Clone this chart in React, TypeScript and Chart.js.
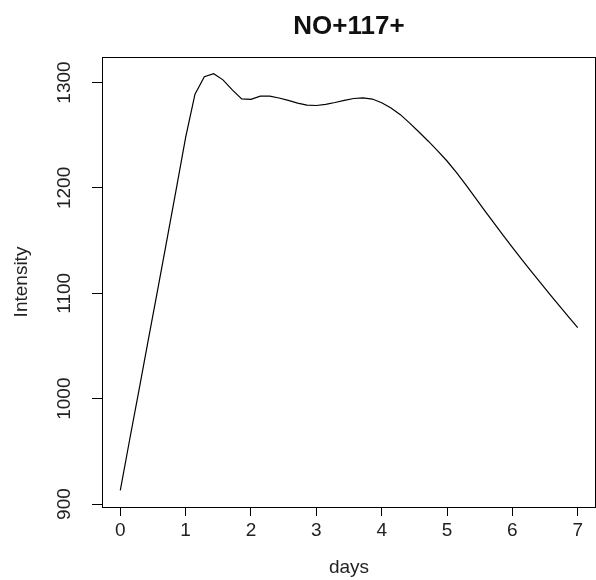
import React, { useEffect, useRef } from "react";
import { Chart, registerables } from "chart.js";

Chart.register(...registerables);

const titleText = "NO+117+";
const xLabel = "days";
const yLabel = "Intensity";
const xTicks = [0, 1, 2, 3, 4, 5, 6, 7];
const yTicks = [900, 1000, 1100, 1200, 1300];

const days = [
  0, 0.143, 0.286, 0.429, 0.571, 0.714, 0.857, 1.0, 1.143, 1.286,
  1.429, 1.571, 1.714, 1.857, 2.0, 2.143, 2.286, 2.429, 2.571, 2.714,
  2.857, 3.0, 3.143, 3.286, 3.429, 3.571, 3.714, 3.857, 4.0, 4.143,
  4.286, 4.429, 4.571, 4.714, 4.857, 5.0, 5.143, 5.286, 5.429, 5.571,
  5.714, 5.857, 6.0, 6.143, 6.286, 6.429, 6.571, 6.714, 6.857, 7.0,
];
const intensity = [
  913, 961, 1008, 1056, 1103, 1151, 1199, 1248, 1289, 1305.5,
  1308.3, 1302.5, 1293, 1284.5, 1284, 1287, 1287, 1285.3, 1283, 1280.5,
  1278.5, 1278.2, 1279.3, 1281, 1283, 1284.8, 1285.5, 1284.3, 1280.8, 1275.8,
  1269.5, 1261.5, 1253, 1244.3, 1235.2, 1225.5, 1214.8, 1203, 1191, 1179,
  1167, 1155.2, 1143.6, 1132.2, 1121, 1110, 1099.3, 1088.6, 1077.9, 1067.3,
];

const FONT = "'Liberation Sans', Arial, Helvetica, sans-serif";

export default function App() {
  const ref = useRef<HTMLCanvasElement | null>(null);

  useEffect(() => {
    if (!ref.current) return;
    const boxPlugin = {
      id: "rbox",
      afterDraw(chart: any) {
        const { ctx, chartArea } = chart;
        ctx.save();
        ctx.strokeStyle = "#000";
        ctx.lineWidth = 1;
        ctx.strokeRect(
          Math.round(chartArea.left) + 0.5,
          Math.round(chartArea.top) + 0.5,
          Math.round(chartArea.right - chartArea.left) - 1,
          Math.round(chartArea.bottom - chartArea.top)
        );
        // y tick labels, rotated (parallel to axis)
        const ys = chart.scales.y;
        ctx.fillStyle = "#222";
        ctx.font = `19px ${FONT}`;
        ctx.textAlign = "center";
        ctx.textBaseline = "middle";
        for (const v of yTicks) {
          const py = ys.getPixelForValue(v);
          ctx.save();
          ctx.translate(65, py);
          ctx.rotate(-Math.PI / 2);
          ctx.fillText(String(v), 0, 0);
          ctx.restore();
        }
        // title
        ctx.font = `bold 26px ${FONT}`;
        ctx.fillStyle = "#111";
        ctx.fillText(titleText, (chartArea.left + chartArea.right) / 2, 27);
        ctx.restore();
      },
    };

    const chart = new Chart(ref.current, {
      type: "line",
      data: {
        datasets: [
          {
            data: days.map((d, i) => ({ x: d, y: intensity[i] })),
            borderColor: "#000",
            borderWidth: 1.2,
            pointRadius: 0,
            tension: 0,
            fill: false,
          },
        ],
      },
      options: {
        animation: false,
        responsive: false,
        devicePixelRatio: 1,
        layout: { padding: { top: 57, right: 0, left: 0, bottom: 0 } },
        plugins: { legend: { display: false }, tooltip: { enabled: false }, title: { display: false } },
        scales: {
          x: {
            type: "linear",
            min: -0.28,
            max: 7.28,
            afterBuildTicks: (s: any) => {
              s.ticks = xTicks.map((v) => ({ value: v }));
            },
            afterFit: (s: any) => {
              s.height = 73;
            },
            grid: { drawOnChartArea: false, drawTicks: true, tickLength: 9, color: "#000" },
            border: { display: true, color: "#000" },
            ticks: {
              color: "#222",
              font: { family: FONT, size: 19 },
              padding: 3,
              maxRotation: 0,
              minRotation: 0,
              callback: (v: any) => String(v),
            },
            title: {
              display: true,
              text: xLabel,
              color: "#222",
              font: { family: FONT, size: 19 },
              padding: { top: 0, bottom: 1 },
            },
          },
          y: {
            type: "linear",
            min: 897.2,
            max: 1324.2,
            afterBuildTicks: (s: any) => {
              s.ticks = yTicks.map((v) => ({ value: v }));
            },
            afterFit: (s: any) => {
              s.width = 102;
            },
            grid: { drawOnChartArea: false, drawTicks: true, tickLength: 10, color: "#000" },
            border: { display: true, color: "#000" },
            ticks: { display: false },
            title: {
              display: true,
              text: yLabel,
              color: "#222",
              font: { family: FONT, size: 19 },
              padding: { top: 10, bottom: 0 },
            },
          },
        },
      },
      plugins: [boxPlugin],
    });
    return () => chart.destroy();
  }, []);

  return (
    <div style={{ position: "fixed", left: 0, top: 0, width: 596, height: 580, background: "#fff" }}>
      <canvas ref={ref} width={596} height={580} style={{ width: 596, height: 580, display: "block" }} />
    </div>
  );
}
